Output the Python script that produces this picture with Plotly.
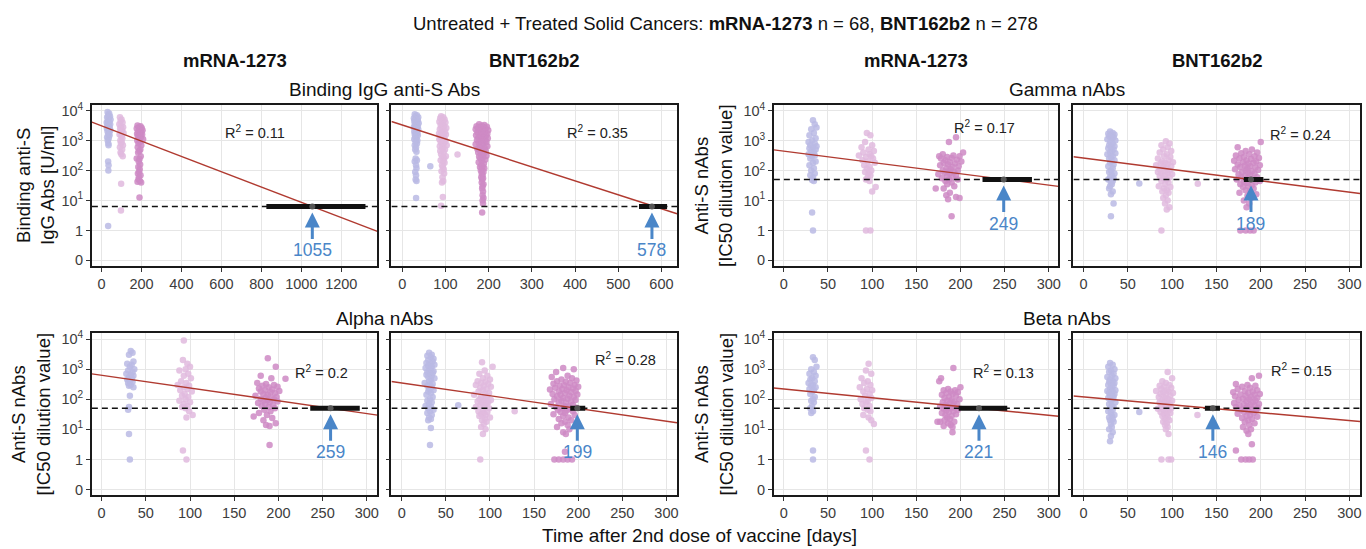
import math
import plotly.graph_objects as go

# ---------------- data ----------------
panel_names = ["mRNA-1273 binding", "BNT162b2 binding", "mRNA-1273 Gamma", "BNT162b2 Gamma",
               "mRNA-1273 Alpha", "BNT162b2 Alpha", "mRNA-1273 Beta", "BNT162b2 Beta"]
thresholds = [6.3, 6.3, 50, 50, 50, 50, 50, 50]
reg_a = [3.49, 3.52, 2.647, 2.417, 2.797, 2.54, 2.34, 2.08]      # log10(value) at day 0
reg_b = [-0.00255, -0.00466, -0.00378, -0.0038, -0.00424, -0.00423, -0.0029, -0.00263]
cross_day = [1055, 578, 249, 189, 259, 199, 221, 146]
ci_lo = [825, 548, 225, 181, 236, 191, 198, 137]
ci_hi = [1321, 613, 281, 203, 292, 208, 253, 154]
r2_text = ["0.11", "0.35", "0.17", "0.24", "0.2", "0.28", "0.13", "0.15"]
x_ticks = [list(range(0, 1201, 200)), list(range(0, 601, 100))] + [list(range(0, 301, 50))] * 6
y_tick_labels = ["0", "1", "10<sup>1</sup>", "10<sup>2</sup>", "10<sup>3</sup>", "10<sup>4</sup>"]

# (day, value) pairs per time-point cluster
p1_c1 = [(30,9000),(38,8000),(33,7000),(42,6500),(28,6000),(36,5500),(45,5000),(31,4500),(39,4200),(26,4000),(34,3800),(43,3500),(29,3200),(37,3000),(32,2800),(41,2600),(27,2500),(35,2300),(44,2200),(30,2000),(38,1800),(33,1600),(40,1500),(28,1300),(36,1200),(31,1000),(34,800),(35,700),(33,200),(35,150),(34,100),(33,1.4)]
p1_c2 = [(92,6000),(100,5000),(95,4500),(105,4000),(89,3500),(98,3000),(108,2800),(93,2500),(102,2200),(96,2000),(110,1800),(90,1600),(99,1400),(104,1200),(94,1000),(101,900),(97,800),(107,700),(92,600),(103,500),(95,400),(99,350),(106,300),(98,36),(97,4.6)]
p1_c3 = [(180,3200),(195,3000),(186,2800),(201,2600),(176,2500),(191,2300),(205,2200),(184,2000),(198,1900),(188,1800),(178,1700),(203,1600),(193,1500),(182,1400),(197,1300),(187,1200),(208,1100),(179,1000),(192,900),(185,800),(199,700),(181,600),(194,500),(189,450),(183,400),(196,300),(176,250),(190,240),(186,200),(193,160),(184,130),(191,110),(188,90),(182,80),(195,70),(187,60),(185,50),(192,45),(180,42),(198,40),(190,12.5)]

p2_c1 = [(29,7500),(34,7000),(31,6500),(37,6000),(27,5500),(33,5200),(30,5000),(36,4800),(28,4500),(35,4200),(32,4000),(38,3800),(29,3600),(34,3400),(31,3200),(36,3000),(27,2800),(33,2600),(30,2500),(37,2400),(32,2200),(28,2000),(35,1900),(31,1800),(34,1700),(29,1600),(36,1500),(32,1400),(30,1300),(33,1200),(28,1100),(35,1000),(31,900),(34,800),(29,700),(32,600),(30,500),(33,420),(31,250),(34,220),(29,200),(32,150),(33,120),(30,90),(32,70),(31,50),(33,45),(32,12),(65,140)]
p2_c2 = [(90,6500),(95,6000),(88,5500),(98,5000),(92,4500),(86,4200),(100,4000),(94,3600),(89,3300),(97,3000),(91,2800),(102,2600),(87,2400),(95,2200),(99,2000),(90,1900),(93,1800),(85,1700),(101,1600),(96,1500),(88,1400),(92,1300),(98,1200),(86,1100),(94,1000),(100,950),(89,900),(97,850),(91,800),(103,700),(87,650),(95,600),(92,550),(99,500),(88,450),(96,400),(90,350),(101,300),(93,280),(97,250),(89,220),(95,200),(98,180),(92,150),(94,130),(96,110),(91,95),(97,80),(93,60),(95,45),(92,40),(94,13),(90,6.7),(128,340)]
p2_c3 = [(178,3500),(190,3300),(184,3100),(172,3000),(196,2900),(181,2800),(188,2700),(175,2600),(193,2500),(170,2400),(186,2300),(199,2200),(179,2100),(191,2000),(174,1900),(183,1800),(197,1700),(187,1600),(171,1500),(194,1450),(180,1400),(189,1300),(176,1250),(198,1200),(185,1100),(173,1050),(192,1000),(182,950),(195,900),(177,850),(188,800),(170,750),(184,700),(197,650),(179,600),(191,560),(174,520),(186,480),(193,450),(181,420),(176,400),(189,370),(183,340),(195,310),(178,290),(187,270),(181,250),(192,230),(184,210),(177,190),(189,170),(183,150),(186,140),(180,130),(190,120),(185,110),(182,100),(188,90),(184,80),(186,70),(183,60),(187,55),(185,50),(184,40),(188,35),(186,30),(185,25),(187,20),(186,15),(188,12),(186,10),(187,8),(185,4)]

p3_c1 = [(33,4800),(35,3500),(37,2700),(31,2400),(34,1800),(29,1500),(36,1200),(32,1000),(28,900),(35,800),(30,700),(37,650),(33,600),(29,550),(36,500),(31,450),(34,400),(28,350),(35,320),(32,300),(30,250),(36,200),(33,180),(29,150),(34,120),(31,100),(35,80),(30,70),(33,60),(32,48),(34,45),(32,4),(33,1)]
p3_c2 = [(94,1800),(98,1500),(92,900),(100,700),(88,600),(96,500),(102,450),(90,400),(97,350),(85,320),(99,300),(93,280),(101,250),(89,220),(95,200),(103,180),(91,150),(97,130),(94,120),(99,100),(92,90),(96,80),(98,70),(95,60),(93,50),(97,45),(104,28),(100,20),(93,1),(98,1)]
p3_c3 = [(195,1300),(187,900),(203,400),(180,350),(192,320),(176,300),(199,300),(185,280),(190,260),(178,250),(196,230),(183,220),(201,200),(188,190),(181,180),(194,170),(186,160),(177,150),(198,140),(191,130),(184,120),(189,110),(180,100),(197,100),(186,95),(193,90),(182,85),(188,80),(175,75),(195,70),(185,65),(191,60),(179,55),(187,50),(197,50),(183,45),(190,40),(185,35),(193,30),(181,25),(172,25),(188,18),(184,15),(195,13),(199,12),(186,11),(190,3)]

p4_c1 = [(30,2000),(33,1800),(28,1700),(35,1600),(31,1500),(29,1400),(34,1300),(32,1200),(27,1100),(36,1000),(30,900),(33,800),(29,700),(35,650),(31,600),(28,550),(34,500),(32,450),(30,400),(36,380),(27,350),(33,300),(31,280),(29,250),(35,220),(32,200),(30,180),(34,160),(28,140),(33,120),(31,100),(29,90),(35,80),(32,70),(30,60),(34,55),(28,50),(33,45),(31,40),(32,35),(30,30),(29,25),(33,20),(31,16),(34,8),(31,3),(63,37)]
p4_c2 = [(93,950),(97,800),(88,700),(95,600),(90,500),(99,450),(86,400),(94,350),(91,300),(98,280),(84,250),(96,220),(89,200),(101,190),(92,180),(87,170),(95,160),(82,150),(99,140),(90,130),(93,120),(86,110),(97,100),(91,95),(84,90),(95,85),(88,80),(100,75),(92,70),(86,65),(97,60),(90,55),(94,50),(88,45),(96,40),(92,35),(85,30),(98,28),(91,25),(94,22),(89,20),(96,18),(93,15),(90,12),(95,10),(92,8),(97,6),(94,5),(88,1),(129,36)]
p4_c3 = [(200,900),(174,600),(190,500),(183,450),(196,400),(178,380),(187,350),(172,320),(193,300),(181,280),(198,260),(176,250),(189,240),(184,220),(170,210),(195,200),(180,190),(192,180),(186,170),(174,160),(199,150),(182,145),(188,140),(177,130),(194,125),(185,120),(171,110),(197,105),(183,100),(190,95),(179,90),(186,85),(193,80),(175,75),(188,70),(182,65),(196,60),(178,58),(185,55),(191,52),(173,50),(187,48),(199,45),(181,42),(194,40),(184,38),(177,35),(190,32),(186,30),(180,28),(192,25),(183,22),(188,20),(176,18),(195,16),(185,14),(189,12),(181,10),(187,8),(184,6),(177,1),(183,1),(188,1),(192,1)]

p5_c1 = [(33,4000),(35,3500),(31,3000),(36,1800),(29,1500),(34,1400),(32,1200),(37,1000),(30,900),(35,800),(28,700),(33,650),(36,600),(31,550),(34,500),(29,450),(32,400),(35,380),(30,350),(33,300),(31,280),(36,250),(32,130),(31,55),(30,45),(31,7),(32,1)]
p5_c2 = [(93,9000),(92,2000),(97,1500),(100,1200),(95,1000),(88,900),(98,700),(93,600),(101,500),(90,400),(96,350),(86,300),(99,280),(93,250),(97,220),(89,200),(102,180),(94,150),(91,130),(98,120),(95,100),(88,90),(100,80),(93,70),(97,60),(91,55),(95,50),(99,40),(103,30),(96,25),(92,2),(96,1)]
p5_c3 = [(188,2300),(197,1200),(180,600),(192,500),(208,480),(176,350),(186,320),(195,300),(182,280),(199,260),(189,250),(178,230),(193,210),(185,200),(201,190),(180,180),(191,170),(196,160),(183,150),(188,140),(174,130),(198,120),(186,115),(192,110),(180,105),(195,100),(188,95),(183,90),(199,85),(190,80),(177,75),(185,70),(194,65),(181,60),(189,55),(196,50),(184,45),(191,40),(178,35),(187,30),(172,27),(193,24),(183,20),(197,16),(186,14),(190,13),(190,3)]

p6_c1 = [(31,3500),(34,3000),(29,2800),(33,2500),(36,2200),(30,2000),(35,1800),(28,1600),(32,1500),(37,1400),(30,1300),(34,1200),(27,1100),(33,1000),(31,900),(36,850),(29,800),(35,750),(32,700),(28,650),(34,600),(30,550),(37,500),(33,450),(31,400),(26,350),(35,320),(32,300),(29,280),(34,250),(31,220),(36,200),(30,180),(33,160),(28,140),(35,120),(32,100),(29,90),(34,80),(31,70),(27,60),(33,55),(30,50),(36,45),(32,40),(29,35),(34,30),(31,25),(33,22),(30,20),(33,11),(32,3),(64,63)]
p6_c2 = [(91,1700),(103,1200),(94,900),(88,700),(97,600),(92,500),(100,450),(86,400),(95,380),(90,350),(98,320),(84,300),(93,280),(101,260),(89,240),(96,220),(92,200),(87,180),(99,160),(94,150),(82,140),(97,130),(90,120),(95,110),(88,100),(101,95),(93,90),(86,85),(98,80),(91,75),(96,70),(89,65),(94,60),(84,55),(99,50),(92,45),(87,40),(97,38),(93,35),(90,32),(95,30),(88,28),(100,25),(94,22),(91,20),(96,18),(93,15),(90,12),(95,10),(92,7),(89,1),(128,40)]
p6_c3 = [(183,1100),(195,1000),(175,800),(188,600),(170,550),(193,500),(181,450),(198,420),(176,400),(186,380),(191,350),(172,330),(196,300),(184,290),(179,280),(200,260),(189,250),(174,240),(194,230),(182,220),(168,210),(187,200),(197,190),(178,180),(192,170),(185,160),(171,150),(199,145),(180,140),(190,130),(176,125),(195,120),(183,110),(188,105),(173,100),(197,95),(181,90),(192,85),(178,80),(186,75),(169,70),(194,65),(184,60),(189,58),(175,55),(198,52),(182,50),(190,48),(177,45),(187,42),(194,40),(180,38),(185,35),(172,32),(196,30),(183,28),(189,25),(178,22),(192,20),(185,18),(181,16),(188,14),(176,12),(190,10),(183,8),(186,7),(185,1.8),(173,1),(178,1),(183,1),(188,1),(193,1)]

p7_c1 = [(33,2500),(35,2000),(37,1200),(31,1000),(34,800),(29,700),(36,600),(32,500),(30,450),(35,400),(28,350),(33,300),(31,280),(36,250),(29,220),(34,200),(32,180),(30,150),(35,120),(33,100),(31,90),(34,80),(32,60),(30,50),(33,40),(31,35),(33,2),(33,1)]
p7_c2 = [(96,1500),(93,900),(99,700),(88,500),(95,400),(91,350),(98,300),(86,250),(94,220),(100,200),(90,180),(97,150),(92,130),(99,110),(87,100),(95,90),(93,80),(89,70),(97,60),(91,50),(95,45),(98,40),(90,30),(96,25),(99,20),(102,15),(93,2),(97,1)]
p7_c3 = [(192,1100),(178,500),(176,400),(200,250),(186,220),(194,200),(181,200),(189,180),(197,170),(184,160),(191,150),(179,140),(195,130),(187,120),(182,110),(199,100),(190,95),(185,90),(193,85),(180,80),(188,75),(196,70),(183,65),(191,60),(177,58),(186,55),(194,52),(189,50),(181,48),(197,45),(184,42),(192,40),(187,38),(179,35),(195,32),(183,30),(190,28),(185,25),(188,22),(182,20),(193,18),(186,16),(189,14),(181,13),(191,12),(174,18),(177,18),(191,8)]

p8_c1 = [(30,1600),(33,1400),(28,1200),(35,1000),(31,900),(29,800),(34,700),(32,600),(27,550),(36,500),(30,450),(33,400),(29,380),(35,350),(31,320),(28,300),(34,280),(32,250),(30,220),(36,200),(27,190),(33,180),(31,170),(29,160),(35,150),(32,140),(30,130),(34,120),(28,110),(33,100),(31,90),(36,80),(29,70),(32,60),(34,55),(30,50),(33,45),(28,40),(31,35),(35,30),(32,28),(29,25),(33,22),(30,20),(34,18),(31,15),(32,12),(29,10),(33,8),(31,6),(30,4),(63,38)]
p8_c2 = [(95,800),(100,500),(89,400),(93,350),(97,300),(86,280),(91,260),(99,240),(88,220),(94,200),(82,190),(96,180),(90,170),(101,160),(87,150),(93,140),(98,130),(85,120),(92,110),(96,100),(89,95),(100,90),(94,85),(86,80),(91,75),(97,70),(88,65),(95,60),(92,55),(99,50),(84,48),(90,45),(96,42),(93,40),(87,38),(98,35),(91,32),(94,30),(89,28),(95,25),(92,22),(97,20),(90,18),(94,16),(92,14),(95,12),(93,10),(96,7),(88,1),(96,1),(99,1),(128.6,30)]
p8_c3 = [(198,600),(190,500),(172,320),(185,300),(194,280),(179,260),(188,240),(174,220),(196,200),(182,190),(191,180),(169,170),(186,160),(199,150),(177,145),(193,140),(183,130),(171,125),(189,120),(196,110),(180,105),(187,100),(175,95),(194,90),(184,85),(191,80),(170,75),(198,70),(181,68),(188,65),(176,62),(193,60),(185,58),(172,55),(197,52),(183,50),(190,48),(178,45),(195,42),(186,40),(181,38),(192,35),(174,33),(188,30),(184,28),(196,26),(179,24),(190,22),(186,20),(182,18),(193,16),(187,14),(180,12),(189,10),(184,9),(186,7),(190,3.2),(172,2),(178,1),(183,1),(187,1),(191,1)]

clusters = [
    (p1_c1, p1_c2, p1_c3), (p2_c1, p2_c2, p2_c3), (p3_c1, p3_c2, p3_c3), (p4_c1, p4_c2, p4_c3),
    (p5_c1, p5_c2, p5_c3), (p6_c1, p6_c2, p6_c3), (p7_c1, p7_c2, p7_c3), (p8_c1, p8_c2, p8_c3),
]

# ---------------- layout / style ----------------
W, H = 1366, 549
FONT = "Liberation Sans, Arial, Helvetica, sans-serif"
col_px = [(92, 378), (392, 678), (775, 1060), (1075, 1362)]
row_px = [(101.7, 265), (332.7, 496.7)]
x_ranges = [(-48.5, 1381), (-25, 636), (-11.3, 311), (-11.3, 312),
            (-11, 312), (-11.7, 312), (-11.3, 311), (-11.3, 312)]
y_range = (-0.19, 5.2)
r2_pos = [(766, 4.30), (451, 4.27), (227, 4.46), (245, 4.23),
          (249, 3.90), (254, 4.35), (249, 3.90), (246, 3.96)]
cluster_colors = ["rgba(186,186,228,0.85)", "rgba(224,186,222,0.85)", "rgba(206,138,196,0.85)"]
red = "#b03a30"
blue = "#4a86c8"
TICK_SIZE = 14.5


def tr(v):
    return math.log10(v) + 1 if v > 0 else 0.0


fig = go.Figure()
annotations = []
layout_axes = {}

for i in range(8):
    k = i + 1
    xa, ya = ("x" if k == 1 else f"x{k}"), ("y" if k == 1 else f"y{k}")
    row, col = i // 4, i % 4
    c0, c1 = col_px[col]
    r0, r1 = row_px[row]
    layout_axes[f"xaxis{k}" if k > 1 else "xaxis"] = dict(
        domain=[c0 / W, c1 / W], anchor=ya, range=list(x_ranges[i]),
        tickvals=x_ticks[i], ticktext=[str(v) for v in x_ticks[i]],
        showline=True, mirror=True, linecolor="#1a1a1a", linewidth=1.6,
        ticks="outside", ticklen=4, tickwidth=1.1, tickcolor="#333",
        showgrid=True, gridcolor="#e6e6e6", gridwidth=0.8, zeroline=False,
        tickfont=dict(family=FONT, size=TICK_SIZE, color="#3c3c3c"),
    )
    layout_axes[f"yaxis{k}" if k > 1 else "yaxis"] = dict(
        domain=[1 - r1 / H, 1 - r0 / H], anchor=xa, range=list(y_range),
        tickvals=[0, 1, 2, 3, 4, 5], ticktext=y_tick_labels,
        showticklabels=(col in (0, 2)),
        showline=True, mirror=True, linecolor="#1a1a1a", linewidth=1.6,
        ticks="outside", ticklen=4, tickwidth=1.1, tickcolor="#333",
        showgrid=True, gridcolor="#e6e6e6", gridwidth=0.8, zeroline=False,
        tickfont=dict(family=FONT, size=TICK_SIZE, color="#3c3c3c"),
    )

    # scatter clusters
    for ci, pts in enumerate(clusters[i]):
        fig.add_trace(go.Scatter(
            x=[p[0] for p in pts], y=[tr(p[1]) for p in pts], mode="markers",
            marker=dict(size=6.5, color=cluster_colors[ci], line=dict(width=0)),
            xaxis=xa, yaxis=ya, showlegend=False, hoverinfo="skip"))

    # threshold dashed line
    thr_t = tr(thresholds[i])
    xr = x_ranges[i]
    fig.add_trace(go.Scatter(
        x=[xr[0], xr[1]], y=[thr_t, thr_t], mode="lines",
        line=dict(color="#111", width=1.5, dash="6px,4px"),
        xaxis=xa, yaxis=ya, showlegend=False, hoverinfo="skip"))

    # regression line
    fig.add_trace(go.Scatter(
        x=[xr[0], xr[1]], y=[reg_a[i] + reg_b[i] * xr[0] + 1, reg_a[i] + reg_b[i] * xr[1] + 1],
        mode="lines", line=dict(color=red, width=1.4),
        xaxis=xa, yaxis=ya, showlegend=False, hoverinfo="skip"))

    # CI bar and estimate
    fig.add_trace(go.Scatter(
        x=[ci_lo[i], ci_hi[i]], y=[thr_t, thr_t], mode="lines",
        line=dict(color="#111", width=5),
        xaxis=xa, yaxis=ya, showlegend=False, hoverinfo="skip"))
    fig.add_trace(go.Scatter(
        x=[cross_day[i]], y=[thr_t], mode="markers",
        marker=dict(size=6, color="#555"),
        xaxis=xa, yaxis=ya, showlegend=False, hoverinfo="skip"))

    # arrow + label
    annotations.append(dict(
        x=cross_day[i], y=thr_t, xref=xa, yref=ya, text=str(cross_day[i]),
        showarrow=True, ax=0, ay=44, arrowhead=2, arrowsize=1, arrowwidth=3,
        arrowcolor=blue, standoff=6, font=dict(family=FONT, size=17.5, color=blue)))
    # R^2
    annotations.append(dict(
        x=r2_pos[i][0], y=r2_pos[i][1], xref=xa, yref=ya,
        text=f"R<sup>2</sup> = {r2_text[i]}", showarrow=False,
        font=dict(family=FONT, size=14.5, color="#222")))


def paper_text(text, xpx, ypx, size, angle=0, bold=False):
    annotations.append(dict(
        x=xpx / W, y=1 - ypx / H, xref="paper", yref="paper",
        text=(f"<b>{text}</b>" if bold else text), showarrow=False,
        textangle=angle, xanchor="center", yanchor="middle",
        font=dict(family=FONT, size=size, color="#111")))


paper_text("Untreated + Treated Solid Cancers: <b>mRNA-1273</b> n = 68, <b>BNT162b2</b> n = 278", 727, 20, 18.5)
for label, xc in [("mRNA-1273", 235), ("BNT162b2", 535), ("mRNA-1273", 917.5), ("BNT162b2", 1218.5)]:
    paper_text(label, xc, 57, 18.5, bold=True)
paper_text("Binding IgG anti-S Abs", 385, 86, 19)
paper_text("Gamma nAbs", 1068.5, 86, 19)
paper_text("Alpha nAbs", 385, 318, 19)
paper_text("Beta nAbs", 1068.5, 318, 19)
paper_text("Binding anti-S<br>IgG Abs [U/ml]", 36, 183, 18.5, angle=-90)
paper_text("Anti-S nAbs<br>[IC50 dilution value]", 715, 183, 18.5, angle=-90)
paper_text("Anti-S nAbs<br>[IC50 dilution value]", 31, 414, 18.5, angle=-90)
paper_text("Anti-S nAbs<br>[IC50 dilution value]", 715, 414, 18.5, angle=-90)
paper_text("Time after 2nd dose of vaccine [days]", 701, 537, 19)

fig.update_layout(
    width=W, height=H, margin=dict(l=0, r=0, t=0, b=0),
    paper_bgcolor="white", plot_bgcolor="white",
    font=dict(family=FONT), annotations=annotations, **layout_axes)

fig.write_html("out.html", config={"displayModeBar": False},
               post_script="document.body.style.margin='0';document.body.style.overflow='hidden';")
